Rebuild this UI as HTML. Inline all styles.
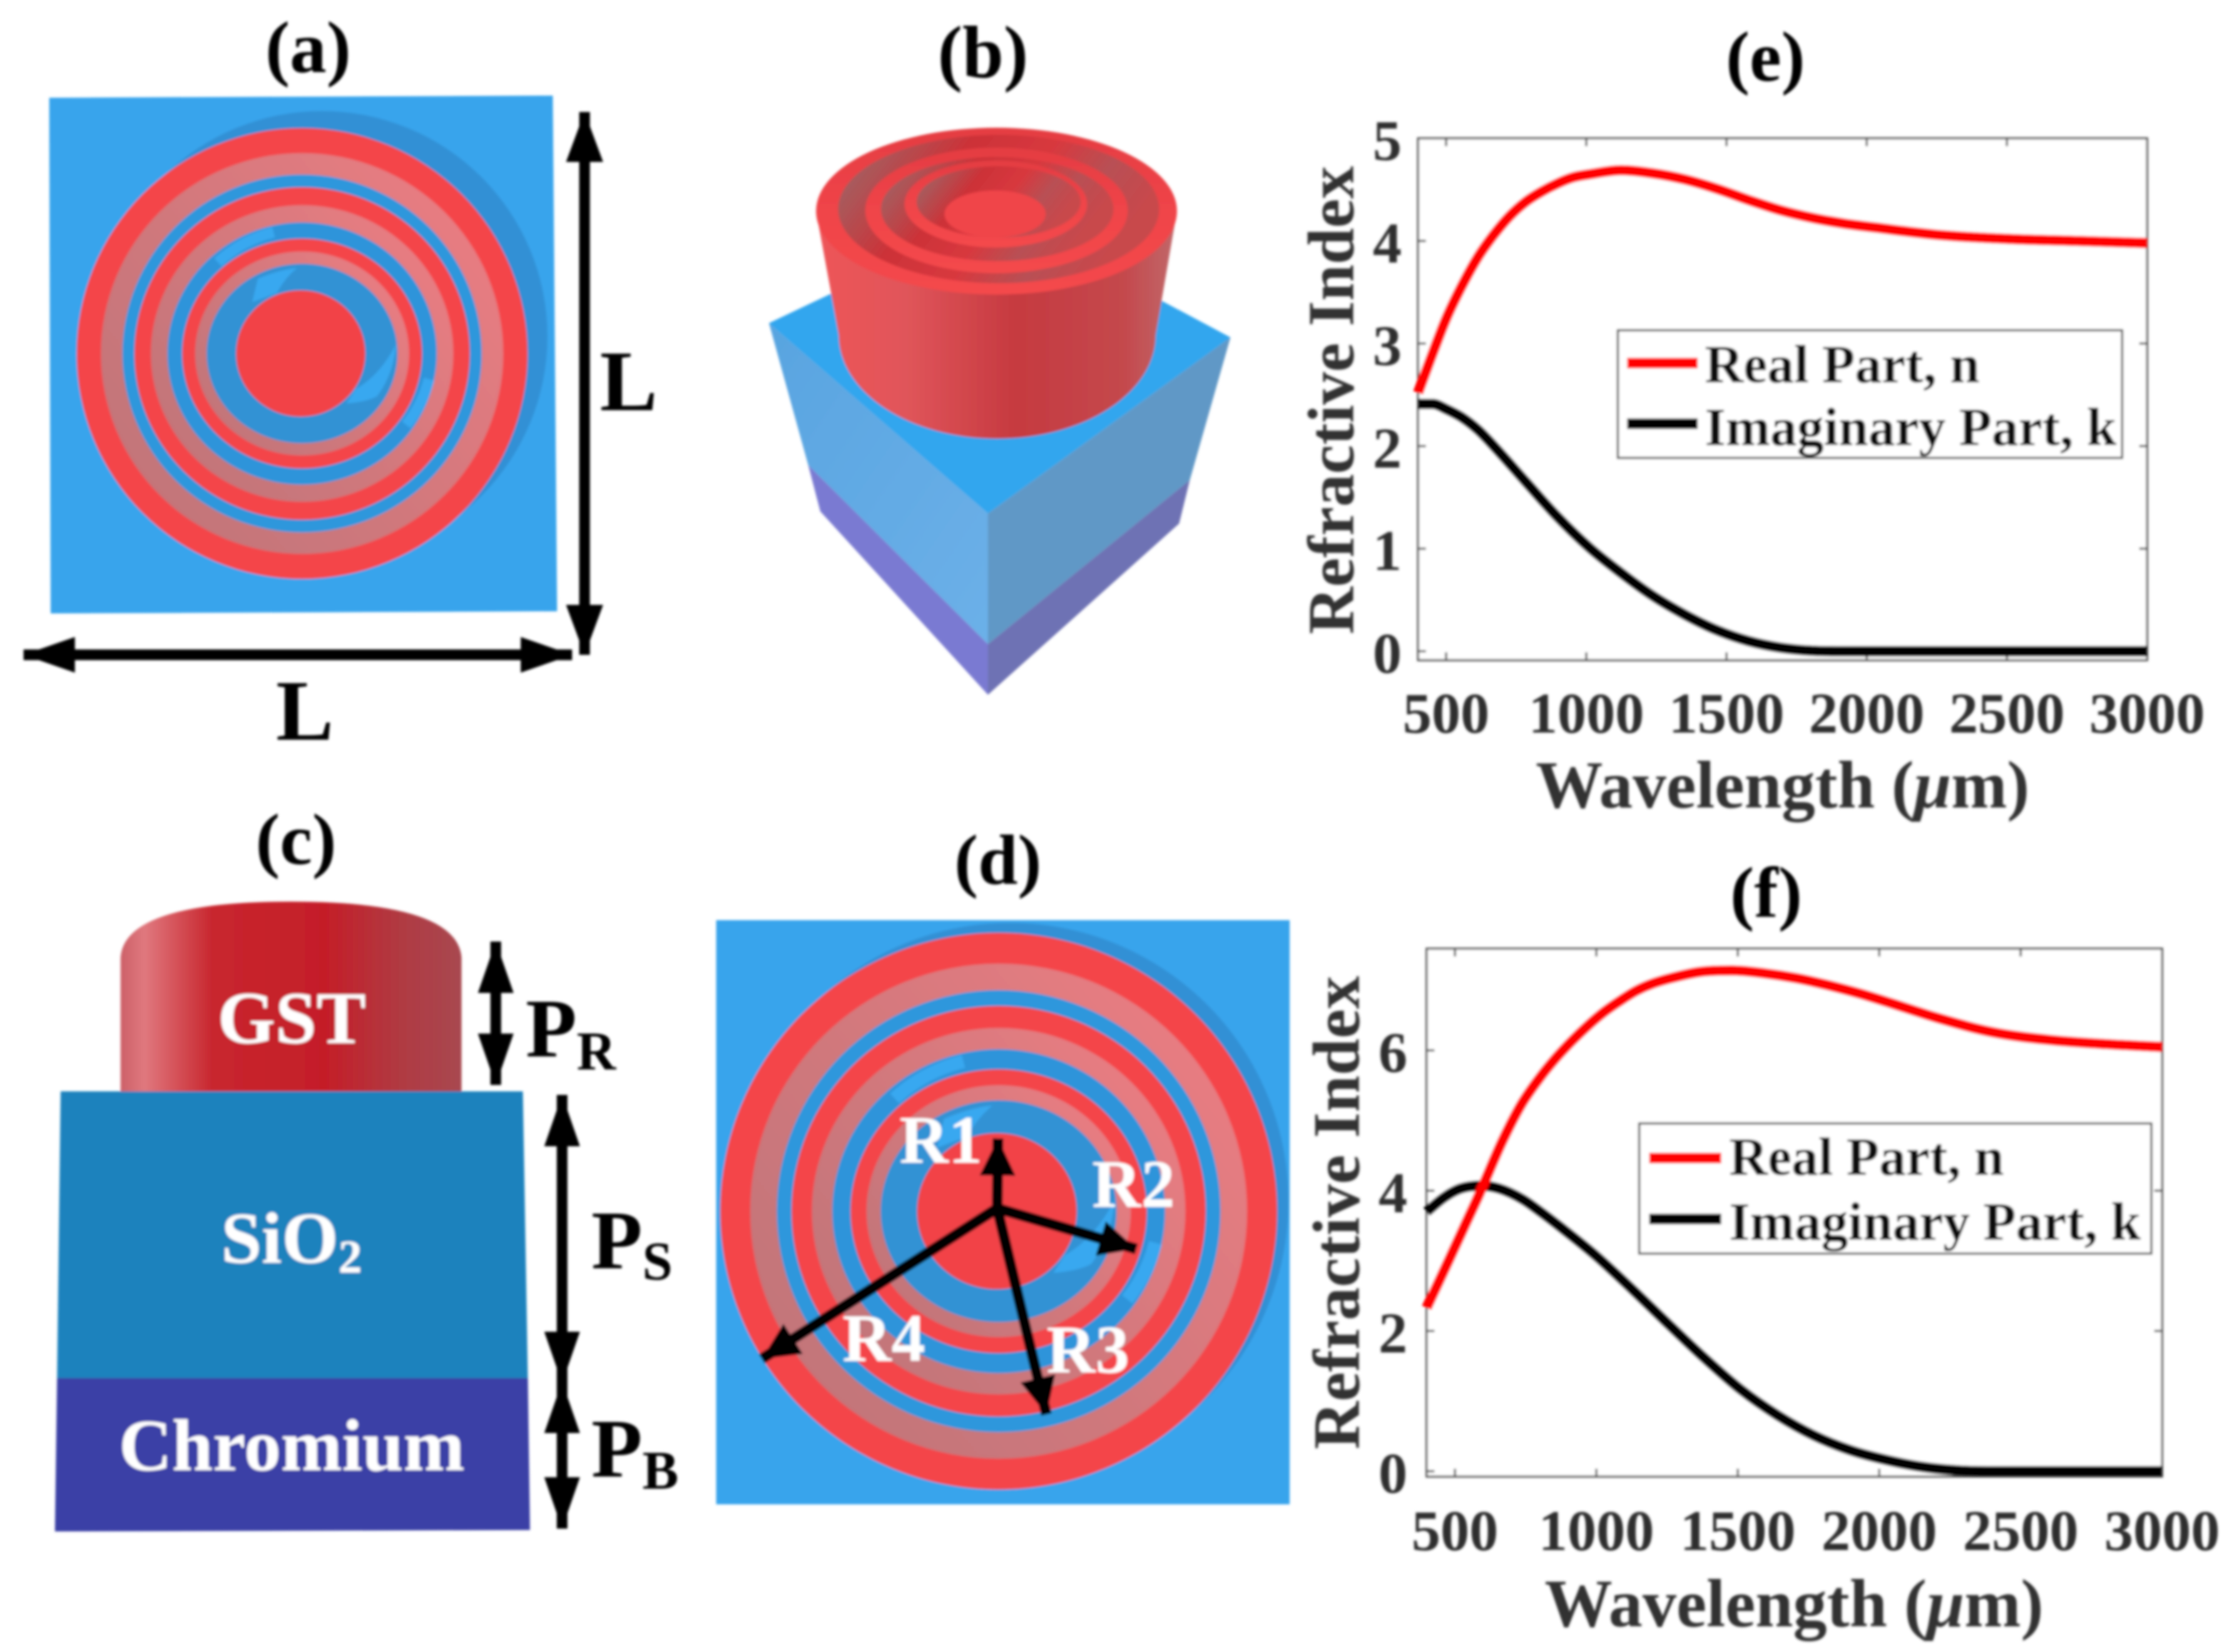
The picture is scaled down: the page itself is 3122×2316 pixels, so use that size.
<!DOCTYPE html>
<html lang="en">
<head>
<meta charset="utf-8">
<title>GST metasurface structure and refractive index</title>
<style>
html,body{margin:0;padding:0;background:#fff;}
#root{display:block;width:3122px;height:2316px;}
text{font-family:"Liberation Serif",serif;font-weight:bold;}
</style>
</head>
<body>
<svg id="root" xmlns="http://www.w3.org/2000/svg" width="3122" height="2316" viewBox="0 0 3122 2316">
<defs>
  <filter id="soft" x="-2%" y="-2%" width="104%" height="104%"><feGaussianBlur stdDeviation="1.8"/></filter>
  <clipPath id="clipD"><rect x="1004" y="1290" width="804" height="819"/></clipPath>
  <linearGradient id="ringLight" x1="0" y1="1" x2="1" y2="0.2">
    <stop offset="0" stop-color="#bd7478"/><stop offset="0.5" stop-color="#d0787c"/><stop offset="1" stop-color="#ea7c82"/>
  </linearGradient>
  <linearGradient id="cylSide" x1="0" y1="0" x2="1" y2="0">
    <stop offset="0" stop-color="#ee5558"/><stop offset="0.25" stop-color="#e0555a"/><stop offset="0.55" stop-color="#c63a40"/><stop offset="0.85" stop-color="#c4484c"/><stop offset="1" stop-color="#c0686a"/>
  </linearGradient>
  <linearGradient id="cylInner" x1="0" y1="0" x2="1" y2="0.35">
    <stop offset="0" stop-color="#a8605f"/><stop offset="0.14" stop-color="#a85a5c"/><stop offset="0.38" stop-color="#cc3238"/><stop offset="0.62" stop-color="#d8383e"/><stop offset="0.82" stop-color="#b85054"/><stop offset="1" stop-color="#c8484c"/>
  </linearGradient>
  <linearGradient id="rimTop" x1="0" y1="0" x2="0" y2="1">
    <stop offset="0" stop-color="#e43c42"/><stop offset="0.5" stop-color="#f04448"/><stop offset="1" stop-color="#f4484c"/>
  </linearGradient>
  <linearGradient id="boxLeft" x1="0" y1="0" x2="1" y2="1">
    <stop offset="0" stop-color="#58a4e0"/><stop offset="1" stop-color="#6cb0e8"/>
  </linearGradient>
  <linearGradient id="gstSide" x1="0" y1="0" x2="1" y2="0">
    <stop offset="0" stop-color="#cc6068"/><stop offset="0.07" stop-color="#e0787e"/><stop offset="0.27" stop-color="#c8262e"/><stop offset="0.6" stop-color="#c41e28"/><stop offset="0.82" stop-color="#b03a42"/><stop offset="1" stop-color="#a84850"/>
  </linearGradient>
</defs>

<g id="all" filter="url(#soft)">

<!-- Panel a -->
<g id="panel-a">
  <text x="432" y="101" font-size="103" text-anchor="middle" fill="#000">(a)</text>
  <polygon points="69,137 775,134 781,857 71,860" fill="#39a4ec"/>
  <g id="rings-a"></g>
  <g id="arrows-a"></g>
  <text x="841" y="575" font-size="121" fill="#000">L</text>
  <text x="387" y="1037" font-size="121" fill="#000">L</text>
</g>

<!-- Panel b -->
<g id="panel-b">
  <text x="1378" y="108" font-size="104" text-anchor="middle" fill="#000">(b)</text>
  <polygon points="1078,453 1400,300 1725,473 1385,720" fill="#33a6ee"/>
  <polygon points="1078,453 1385,720 1385,903 1133,652" fill="url(#boxLeft)"/>
  <polygon points="1725,473 1385,720 1385,903 1668,673" fill="#6098c6"/>
  <polygon points="1133,652 1385,903 1385,974 1150,717" fill="#7a7ad2"/>
  <polygon points="1668,673 1385,903 1385,974 1653,734" fill="#6e72b4"/>
  <path d="M1144,296 L1176,470 A222,145 0 0 0 1620,470 L1650,296 Z" fill="url(#cylSide)"/>
  <ellipse cx="1397" cy="296" rx="253" ry="117" fill="url(#rimTop)"/>
  <ellipse cx="1400" cy="293" rx="225" ry="104" fill="url(#cylInner)"/>
  <ellipse cx="1397" cy="295" rx="184" ry="88" fill="url(#rimTop)"/>
  <ellipse cx="1398" cy="293" rx="163" ry="73" fill="url(#cylInner)"/>
  <ellipse cx="1396" cy="286" rx="128" ry="61" fill="url(#rimTop)"/>
  <ellipse cx="1400" cy="283" rx="115" ry="50" fill="url(#cylInner)"/>
  <ellipse cx="1395" cy="300" rx="71" ry="33" fill="#f04448"/>
</g>

<!-- Panel c -->
<g id="panel-c">
  <text x="415" y="1211" font-size="102" text-anchor="middle" fill="#000">(c)</text>
  <path d="M169,1530 L169,1342 Q175,1264 408,1264 Q640,1264 647,1342 L647,1530 Z" fill="url(#gstSide)"/>
  <polygon points="85,1530 733,1530 740,1932 80,1932" fill="#1c82bd"/>
  <polygon points="80,1932 740,1932 743,2145 77,2147" fill="#3b3fa6"/>
  <text x="409" y="1462" font-size="104" text-anchor="middle" fill="#fff">GST</text>
  <text x="310" y="1770" font-size="102" fill="#fff">SiO<tspan font-size="66" dy="14">2</tspan></text>
  <text x="409" y="2061" font-size="103" text-anchor="middle" fill="#fff">Chromium</text>
  <g id="arrows-c"></g>
  <text x="737" y="1481" font-size="117" fill="#000">P<tspan font-size="76" dy="18">R</tspan></text>
  <text x="829" y="1778" font-size="117" fill="#000">P<tspan font-size="76" dy="16">S</tspan></text>
  <text x="829" y="2070" font-size="117" fill="#000">P<tspan font-size="76" dy="17">B</tspan></text>
</g>

<!-- Panel d -->
<g id="panel-d">
  <text x="1399" y="1239" font-size="100" text-anchor="middle" fill="#000">(d)</text>
  <rect x="1004" y="1290" width="804" height="819" fill="#39a4ec"/>
  <g id="rings-d" clip-path="url(#clipD)"></g>
  <g id="arrows-d"></g>
  <text x="1261" y="1630" font-size="95" fill="#fff">R1</text>
  <text x="1531" y="1692" font-size="95" fill="#fff">R2</text>
  <text x="1467" y="1924" font-size="95" fill="#fff">R3</text>
  <text x="1181" y="1908" font-size="95" fill="#fff">R4</text>
</g>

<!-- Panel e -->
<g id="panel-e">
  <text x="2475" y="113" font-size="100" text-anchor="middle" fill="#000">(e)</text>
  <rect x="1988" y="194" width="1022" height="731.5" fill="#fff" stroke="#555" stroke-width="3"/>
  <g id="chart-e"></g>
  <text transform="translate(1897,561) rotate(-90)" font-size="92" text-anchor="middle" fill="#333">Refractive Index</text>
  <text x="2499" y="1132" font-size="94" text-anchor="middle" fill="#333">Wavelength (<tspan font-style="italic">μ</tspan>m)</text>
  <g>
    <rect x="2268" y="463" width="707" height="179" fill="#fff" stroke="#444" stroke-width="3"/>
    <line x1="2281" y1="509" x2="2380" y2="509" stroke="#f00" stroke-width="15"/>
    <text x="2390" y="536" font-size="75" fill="#111">Real Part, n</text>
    <line x1="2281" y1="594" x2="2380" y2="594" stroke="#000" stroke-width="15"/>
    <text x="2390" y="624" font-size="75" fill="#111">Imaginary Part, k</text>
  </g>
</g>

<!-- Panel f -->
<g id="panel-f">
  <text x="2476" y="1285" font-size="101" text-anchor="middle" fill="#000">(f)</text>
  <rect x="2000" y="1330" width="1031" height="740" fill="#fff" stroke="#555" stroke-width="3"/>
  <g id="chart-f"></g>
  <text transform="translate(1905,1700) rotate(-90)" font-size="93" text-anchor="middle" fill="#333">Refractive Index</text>
  <text x="2515" y="2280" font-size="95" text-anchor="middle" fill="#333">Wavelength (<tspan font-style="italic">μ</tspan>m)</text>
  <g>
    <rect x="2298" y="1575" width="718" height="182.5" fill="#fff" stroke="#444" stroke-width="3"/>
    <line x1="2312" y1="1623.5" x2="2413" y2="1623.5" stroke="#f00" stroke-width="15"/>
    <text x="2424" y="1647" font-size="75" fill="#111">Real Part, n</text>
    <line x1="2312" y1="1709" x2="2413" y2="1709" stroke="#000" stroke-width="15"/>
    <text x="2424" y="1738" font-size="75" fill="#111">Imaginary Part, k</text>
  </g>
</g>
</g>
</svg>

<script>
// Chart (e) data
var wavelengthE_n = [400,442,500,556,613,670,726,783,840,897,953,1011,1123,1237,1351,1464,1578,1692,1805,1919,2033,2250,2500,2750,3000];
var realE = [2.52,2.83,3.24,3.56,3.84,4.06,4.24,4.38,4.48,4.56,4.62,4.65,4.69,4.66,4.60,4.51,4.40,4.30,4.225,4.17,4.13,4.06,4.02,4.00,3.98];
var wavelengthE_k = [400,453,500,556,613,670,783,897,1011,1123,1237,1351,1464,1578,1692,1805,1950,2500,3000];
var imagE = [2.41,2.41,2.36,2.28,2.16,2.00,1.655,1.31,1.01,0.765,0.54,0.357,0.207,0.10,0.035,0.005,0,0,0];
var xTicksE = [500,1000,1500,2000,2500,3000];
var yTicksE = [0,1,2,3,4,5];

// Chart (f) data
var wavelengthF_n = [400,480,530,585,600,667,735,802,859,915,972,1028,1085,1141,1197,1254,1367,1480,1593,1706,1818,1931,2044,2121,2200,2400,2600,2800,3000];
var realF = [2.33,3.02,3.46,3.94,4.08,4.70,5.23,5.62,5.90,6.14,6.36,6.55,6.71,6.85,6.95,7.02,7.12,7.14,7.10,7.03,6.93,6.81,6.67,6.57,6.47,6.26,6.15,6.09,6.05];
var wavelengthF_k = [400,464,520,588,656,738,802,867,996,1125,1254,1383,1512,1640,1769,1898,2027,2156,2285,2400,2700,3000];
var imagF = [3.70,3.91,4.03,4.07,4.03,3.88,3.70,3.50,3.08,2.60,2.10,1.61,1.16,0.80,0.51,0.30,0.16,0.06,0.01,0,0,0];
var xTicksF = [500,1000,1500,2000,2500,3000];
var yTicksF = [0,2,4,6];

var NS = 'http://www.w3.org/2000/svg';

function add(tag, attrs, parent) {
  var el = document.createElementNS(NS, tag);
  for (var k in attrs) el.setAttribute(k, attrs[k]);
  parent.appendChild(el);
  return el;
}

function smoothPath(xs, ys, sx, sy) {
  var px = xs.map(sx), py = ys.map(sy);
  var n = px.length, d = 'M' + px[0].toFixed(1) + ',' + py[0].toFixed(1);
  function slope(i) {
    if (i === 0) return (py[1] - py[0]) / (px[1] - px[0]);
    if (i === n - 1) return (py[n - 1] - py[n - 2]) / (px[n - 1] - px[n - 2]);
    var a = (py[i] - py[i - 1]) / (px[i] - px[i - 1]);
    var b = (py[i + 1] - py[i]) / (px[i + 1] - px[i]);
    return (a === 0 || b === 0 || a * b < 0) ? 0 : (a + b) / 2;
  }
  for (var i = 0; i < n - 1; i++) {
    var h = (px[i + 1] - px[i]) / 3;
    d += ' C' + (px[i] + h).toFixed(1) + ',' + (py[i] + slope(i) * h).toFixed(1) + ' ' +
      (px[i + 1] - h).toFixed(1) + ',' + (py[i + 1] - slope(i + 1) * h).toFixed(1) + ' ' +
      px[i + 1].toFixed(1) + ',' + py[i + 1].toFixed(1);
  }
  return d;
}

function drawChart(id, box, xDomain, yDomain, xTicks, yTicks, xn, yn, xk, yk, xLabelBaseline, yLabelRight) {
  var g = document.getElementById(id);
  function sx(v) { return box.x0 + (v - xDomain[0]) / (xDomain[1] - xDomain[0]) * (box.x1 - box.x0); }
  function sy(v) { return box.y1 - (v - yDomain[0]) / (yDomain[1] - yDomain[0]) * (box.y1 - box.y0); }
  var tickLen = 11;
  xTicks.forEach(function (t) {
    var x = sx(t);
    var a = add('line', {x1: x, x2: x, y1: box.y1, y2: box.y1 - tickLen, stroke: '#555', 'stroke-width': 3}, g);
    
    
    var b = add('line', {x1: x, x2: x, y1: box.y0, y2: box.y0 + tickLen, stroke: '#555', 'stroke-width': 3}, g);
    
    
    var l = add('text', {x: x, y: xLabelBaseline, 'font-size': 81, 'text-anchor': 'middle', fill: '#2e2e2e'}, g);
    
    
    l.textContent = t;
  });
  yTicks.forEach(function (t) {
    var y = sy(t);
    var a = add('line', {x1: box.x0, x2: box.x0 + tickLen, y1: y, y2: y, stroke: '#555', 'stroke-width': 3}, g);
    
    
    var b = add('line', {x1: box.x1, x2: box.x1 - tickLen, y1: y, y2: y, stroke: '#555', 'stroke-width': 3}, g);
    
    
    var l = add('text', {x: yLabelRight, y: y + 30, 'font-size': 81, 'text-anchor': 'end', fill: '#2e2e2e'}, g);
    
    
    l.textContent = t;
  });
  var k = add('path', {d: smoothPath(xk, yk, sx, sy), fill: 'none', stroke: '#000', 'stroke-width': 14.5}, g);
  
  
  var n = add('path', {d: smoothPath(xn, yn, sx, sy), fill: 'none', stroke: '#f00', 'stroke-width': 14.5}, g);
  
  
}

drawChart('chart-e', {x0: 1988, x1: 3010, y0: 194, y1: 925.5}, [400, 3000], [-0.087, 5],
  xTicksE, yTicksE, wavelengthE_n, realE, wavelengthE_k, imagE, 1027, 1965);
drawChart('chart-f', {x0: 2000, x1: 3031, y0: 1330, y1: 2070}, [400, 3000], [-0.075, 7.45],
  xTicksF, yTicksF, wavelengthF_n, realF, wavelengthF_k, imagF, 2173, 1973);

// Concentric-ring illustration (panels a and d)
function drawRings(id, cx, cy, s, shadowDx, shadowDy) {
  var g = document.getElementById(id);
  var tf = 'translate(' + cx + ',' + cy + ') scale(' + s + ')';
  var shadow = add('circle', {cx: cx + shadowDx, cy: cy + shadowDy, r: s * 316, fill: '#3290d5'}, g);
  
  
  var rings = [
    [316, 316, '#f44448'], [282, 281, 'url(#ringLight)'], [252, 251, '#2f97dc'],
    [235, 233, '#f44448'], [212, 208, 'url(#ringLight)'], [189, 184, '#2f94da'],
    [168, 161, '#f44448'], [150, 143, 'url(#ringLight)'], [134, 126, '#3092d4']
  ];
  rings.forEach(function (r, i) {
    var e = add('ellipse', {cx: cx, cy: cy, rx: r[0] * s, ry: r[1] * s, fill: r[2]}, g);
    
    
    if (i === 5) {
      var a1 = add('path', {d: 'M-118,-128 A178,172 0 0 1 -40,-170', fill: 'none', stroke: '#38a8f0', 'stroke-width': 15, transform: tf}, g);
      
      
      var a2 = add('path', {d: 'M178,36 A178,172 0 0 1 146,100', fill: 'none', stroke: '#38a8f0', 'stroke-width': 15, transform: tf}, g);
      
      
    }
  });
  var p1 = add('path', {d: 'M-70,-72 L-62,-105 Q-30,-118 -7,-120 Q-25,-105 -35,-85 Z', fill: '#38a8f0', transform: tf}, g);
  
  
  var p2 = add('path', {d: 'M132,-14 Q128,30 105,60 Q90,68 62,70 L75,50 Q110,30 132,-14 Z', fill: '#38a8f0', transform: tf}, g);
  
  
  var c = add('ellipse', {cx: cx - 2 * s, cy: cy, rx: 90.5 * s, ry: 88.5 * s, fill: '#f24246'}, g);
  
  
}
drawRings('rings-a', 423.5, 495.6, 1, 28, -24);
drawRings('rings-d', 1400, 1698, 1.235, 16, -14);

// Arrows
function arrowHead(tipX, tipY, fromX, fromY, len, wid) {
  var dx = tipX - fromX, dy = tipY - fromY, m = Math.sqrt(dx * dx + dy * dy);
  var ux = dx / m, uy = dy / m, bx = tipX - ux * len, by = tipY - uy * len;
  return [tipX + ',' + tipY, (bx - uy * wid / 2) + ',' + (by + ux * wid / 2), (bx + uy * wid / 2) + ',' + (by - ux * wid / 2)].join(' ');
}
function drawArrow(id, x1, y1, x2, y2, both, len, wid, name) {
  var g = document.getElementById(id);
  var ln = add('line', {x1: x1, y1: y1, x2: x2, y2: y2, stroke: '#000', 'stroke-width': 15}, g);
  
  
  var h = add('polygon', {points: arrowHead(x2, y2, x1, y1, len, wid), fill: '#000'}, g);
  
  
  if (both) {
    var h2 = add('polygon', {points: arrowHead(x1, y1, x2, y2, len, wid), fill: '#000'}, g);
    
    
  }
}
drawArrow('arrows-a', 819.5, 157, 819.5, 918, true, 70, 52, 'height-arrow');
drawArrow('arrows-a', 33, 918, 802, 918, true, 72, 50, 'width-arrow');
drawArrow('arrows-c', 695, 1320, 695, 1521, true, 72, 50, 'p-r-arrow');
drawArrow('arrows-c', 788, 1535, 788, 1939, true, 72, 50, 'p-s-arrow');
drawArrow('arrows-c', 788, 1937, 788, 2143, true, 72, 50, 'p-b-arrow');
drawArrow('arrows-d', 1398, 1694, 1399, 1596, false, 52, 50, 'r1-arrow');
drawArrow('arrows-d', 1398, 1694, 1593, 1751, false, 52, 50, 'r2-arrow');
drawArrow('arrows-d', 1398, 1694, 1467, 1983, false, 52, 50, 'r3-arrow');
drawArrow('arrows-d', 1398, 1694, 1068, 1905, false, 52, 50, 'r4-arrow');
</script>
</body>
</html>
